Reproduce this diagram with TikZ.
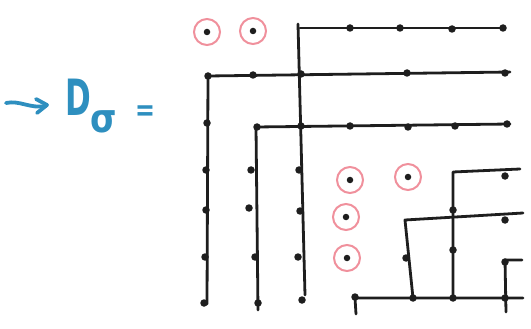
\documentclass[tikz,border=0pt]{standalone}
\usepackage{fontspec}
\newfontfamily\handf{DejaVu Sans}
\definecolor{inkblue}{HTML}{2E8FBF}
\definecolor{inkpink}{HTML}{F0909C}
\definecolor{inkblack}{HTML}{1E1E1E}
\begin{document}
\begin{tikzpicture}[x=1pt,y=-1pt,
  wire/.style={draw=inkblack,line width=2.8pt,line cap=round,line join=round},
  knot/.style={circle,fill=inkblack,inner sep=0pt,minimum size=7.5pt},
  ring/.style={circle,draw=inkpink,line width=2pt,inner sep=0pt,minimum size=26pt},
  blueink/.style={draw=inkblue,line width=3.8pt,line cap=round,line join=round},
  bluetext/.style={text=inkblue,inner sep=0pt,anchor=center}]
\useasboundingbox (0,0) rectangle (531,329);
% ---- left label
\coordinate (a0) at (6,103);
\coordinate (a1) at (46,106);
\draw[blueink] (a0) .. controls (20,100) and (30,109) .. (a1);
\draw[blueink] (36,99) -- (47,105) -- (37,113);
\node[bluetext,font=\handf\bfseries\fontsize{50}{50}\selectfont,xscale=0.62] (dd) at (78,97) {D};
\node[bluetext,font=\handf\bfseries\fontsize{40}{40}\selectfont,xscale=0.85] (sg) at (104,122) {σ};
\node[bluetext,font=\handf\bfseries\fontsize{34}{34}\selectfont,xscale=0.7,yscale=0.9] (eq) at (145,113) {=};
% ---- circled dots
\foreach \n/\x/\y in {r1/207/32,r2/253/31,r3/350/180,r4/408/177,r5/346/217,r6/347/258}{
  \node[ring] (\n) at (\x,\y) {};
  \node[knot,minimum size=6.5pt] at (\n.center) {};
}
% ---- long lines
\coordinate (v3t) at (298,24);
\coordinate (v3b) at (305,295);
\coordinate (h1a) at (300,28);
\coordinate (h1b) at (504,28);
\coordinate (h2a) at (208,76);
\coordinate (h2b) at (510,72);
\coordinate (h3a) at (256,127);
\coordinate (h3b) at (510,124);
\coordinate (v1b) at (207,304);
\coordinate (v2b) at (258,310);
\draw[wire] (v3t) -- (v3b);
\draw[wire] (h1a) -- (h1b);
\draw[wire] (v1b) -- (h2a) -- (h2b);
\draw[wire] (v2b) -- (h3a) -- (h3b);
% ---- lower right
\coordinate (hba) at (355,298);
\coordinate (hbb) at (523,298);
\coordinate (s1) at (356,314);
\coordinate (v4t) at (453,172);
\coordinate (v4b) at (453,298);
\coordinate (h4b) at (520,169);
\coordinate (h5a) at (405,220);
\coordinate (h5b) at (523,213);
\coordinate (v5b) at (413,298);
\coordinate (h6a) at (505,260);
\coordinate (h6b) at (522,260);
\coordinate (v6b) at (506,312);
\draw[wire] (s1) -- (hba) -- (hbb);
\draw[wire] (v4b) -- (v4t) -- (h4b);
\draw[wire] (v5b) -- (h5a) -- (h5b);
\draw[wire] (v6b) -- (h6a) -- (h6b);
% ---- dots
\foreach \x/\y in {
  350/28,400/28,452/29,503/28,
  208/76,253/75,301/74,407/73,505/73,
  257/127,301/126,350/126,408/127,455/126,507/124,
  207/123,206/170,206/210,205/257,204/303,
  251/170,249/208,255/257,258/303,
  299/170,300/211,298/257,302/300,
  453/210,453/250,505/176,505/220,406/258,
  355/297,413/298,453/298,505/298,505/262}{
  \node[knot] at (\x,\y) {};
}
\end{tikzpicture}
\end{document}
